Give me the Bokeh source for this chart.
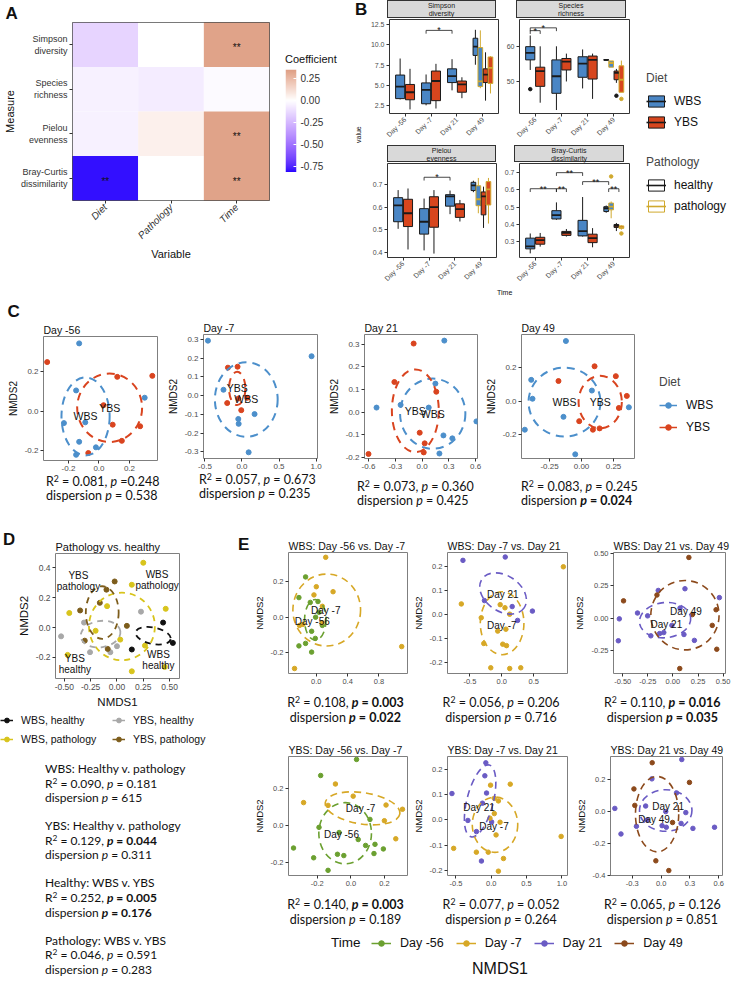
import numpy as np
from bokeh.plotting import figure
from bokeh.layouts import row, column
from bokeh.models import (Range1d, FactorRange, ColumnDataSource, LinearColorMapper,
                          FixedTicker, PrintfTickFormatter, Title, Div, Spacer, Legend, LegendItem)
from bokeh.transform import transform
from bokeh.core.properties import value
from bokeh.embed import file_html
from bokeh.resources import INLINE

# ============================ DATA ============================
# ---- Panel A: coefficient heatmap ----
heat_measures = ["Simpson\ndiversity", "Species\nrichness", "Pielou\nevenness", "Bray-Curtis\ndissimilarity"]
heat_variables = ["Diet", "Pathology", "Time"]
heat_coef_simpson = [-0.15, 0.00, 0.33]
heat_coef_richness = [-0.05, -0.07, -0.02]
heat_coef_pielou = [-0.05, 0.05, 0.33]
heat_coef_bray = [-0.80, 0.00, 0.33]
heat_sig_simpson = ["", "", "**"]
heat_sig_richness = ["", "", ""]
heat_sig_pielou = ["", "", "**"]
heat_sig_bray = ["**", "", "**"]
coef_ticks = [0.25, 0.0, -0.25, -0.5, -0.75]
coef_low, coef_high = -0.82, 0.35

# ---- Panel B: boxplots ----
days = ["Day -56", "Day -7", "Day 21", "Day 49"]
box_day = ["Day -56", "Day -56", "Day -7", "Day -7", "Day 21", "Day 21", "Day 49", "Day 49", "Day 49", "Day 49"]
box_diet = ["WBS", "YBS", "WBS", "YBS", "WBS", "YBS", "WBS", "WBS", "YBS", "YBS"]
box_path = ["healthy"] * 6 + ["healthy", "pathology", "healthy", "pathology"]

simpson_lo = [3.30, 2.08, 2.58, 2.19, 4.41, 3.45, 7.54, 4.67, 3.15, 4.03]
simpson_q1 = [3.40, 3.26, 2.77, 3.15, 5.36, 4.18, 8.68, 4.87, 5.36, 5.25]
simpson_med = [4.87, 4.18, 4.48, 5.55, 6.16, 5.13, 9.75, 5.51, 6.32, 7.16]
simpson_q3 = [6.28, 5.13, 5.32, 6.77, 7.04, 5.55, 10.78, 9.64, 7.04, 8.49]
simpson_hi = [8.30, 7.04, 6.35, 7.65, 8.22, 6.01, 11.81, 11.74, 9.06, 8.60]

species_lo = [53.3, 43.9, 41.8, 50.0, 48.0, 45.0, 56.0, 54.1, 49.6, 46.9]
species_q1 = [56.2, 48.6, 46.6, 53.3, 51.2, 50.7, 56.1, 54.1, 50.5, 46.9]
species_med = [58.2, 53.0, 51.5, 55.7, 55.1, 56.2, 56.2, 55.3, 52.5, 50.5]
species_q3 = [60.0, 54.1, 56.2, 56.6, 57.1, 57.3, 56.3, 55.9, 53.0, 54.5]
species_hi = [63.2, 60.1, 60.1, 58.0, 59.2, 58.0, 56.4, 55.9, 53.6, 56.0]

pielou_lo = [0.505, 0.415, 0.411, 0.397, 0.569, 0.537, 0.665, 0.573, 0.509, 0.528]
pielou_q1 = [0.536, 0.515, 0.482, 0.512, 0.604, 0.555, 0.672, 0.606, 0.566, 0.609]
pielou_med = [0.607, 0.573, 0.536, 0.600, 0.647, 0.591, 0.695, 0.634, 0.647, 0.677]
pielou_q3 = [0.641, 0.634, 0.593, 0.645, 0.654, 0.614, 0.708, 0.693, 0.666, 0.711]
pielou_hi = [0.674, 0.681, 0.637, 0.674, 0.672, 0.631, 0.715, 0.727, 0.689, 0.727]

bray_lo = [0.233, 0.272, 0.427, 0.330, 0.330, 0.268, 0.468, 0.436, 0.362, 0.370]
bray_q1 = [0.259, 0.286, 0.432, 0.337, 0.334, 0.295, 0.475, 0.485, 0.383, 0.378]
bray_med = [0.273, 0.309, 0.454, 0.351, 0.362, 0.321, 0.494, 0.503, 0.392, 0.383]
bray_q3 = [0.321, 0.326, 0.480, 0.360, 0.424, 0.344, 0.503, 0.524, 0.400, 0.392]
bray_hi = [0.348, 0.351, 0.528, 0.374, 0.559, 0.379, 0.510, 0.533, 0.409, 0.396]

out_measure = ["species", "species", "species", "bray", "bray"]
out_box = [0, 8, 9, 7, 9]
out_value = [47.8, 45.9, 45.0, 0.678, 0.348]

br_measure = ["simpson", "species", "species", "pielou", "bray", "bray", "bray", "bray", "bray"]
br_from = [("Day -7", "WBS"), ("Day -56", "WBS"), ("Day -56", "WBS"), ("Day -7", "WBS"), ("Day -56", "WBS"),
           ("Day -7", "WBS"), ("Day -7", "WBS"), ("Day 21", "WBS"), ("Day 49", "WBS")]
br_to = [("Day 21", "WBS"), ("Day -56", "YBS"), ("Day -7", "WBS"), ("Day 21", "WBS"), ("Day -7", "WBS"),
         ("Day -7", "YBS"), ("Day 21", "WBS"), ("Day 49", "WBS"), ("Day 49", "YBS")]
br_y = [11.74, 64.6, 65.4, 0.73, 0.607, 0.607, 0.700, 0.648, 0.607]
br_label = ["*", "*", "*", "*", "**", "**", "**", "**", "**"]

simpson_ticks = [2.5, 5.0, 7.5, 10.0, 12.5]
species_ticks = [50, 60]
pielou_ticks = [0.4, 0.5, 0.6, 0.7]
bray_ticks = [0.3, 0.4, 0.5, 0.6, 0.7]

# ---- Panel C: NMDS per day ----
c1_wbs_x = [-0.13, -0.15, 0.30, -0.23, -0.09, -0.13, -0.15, -0.02]
c1_wbs_y = [0.345, 0.106, 0.069, -0.060, -0.056, -0.155, -0.221, -0.183]
c1_ybs_x = [-0.34, 0.35, 0.12, 0.03, 0.09, 0.27, 0.15, -0.07]
c1_ybs_y = [0.250, 0.180, 0.175, 0.031, -0.068, -0.076, -0.150, -0.212]
c1_wbs_ell = [-0.088, -0.026, 0.316, 0.396, 0.0]
c1_ybs_ell = [0.070, 0.018, 0.426, 0.348, 0.0]

c2_wbs_x = [-0.46, 0.94, -0.25, -0.05, -0.045, 0.17, 0.09]
c2_wbs_y = [0.293, 0.210, 0.031, -0.125, -0.151, -0.099, -0.303]
c2_ybs_x = [-0.19, -0.06, -0.20, -0.01, -0.05, 0.07]
c2_ybs_y = [0.149, 0.154, -0.040, -0.078, -0.016, -0.012]
c2_wbs_ell = [0.058, -0.021, 0.848, 0.398, 0.0]
c2_ybs_ell = [-0.065, 0.038, 0.220, 0.177, 0.0]

c3_wbs_x = [0.25, -0.51, -0.24, 0.075, 0.15, 0.61, 0.24, 0.34, 0.195]
c3_wbs_y = [0.316, 0.020, 0.032, 0.020, 0.126, -0.041, -0.103, -0.116, -0.183]
c3_ybs_x = [-0.094, -0.31, 0.16, -0.026, 0.03, 0.019, -0.60]
c3_ybs_y = [0.303, 0.133, 0.090, -0.091, -0.138, -0.178, -0.185]
c3_wbs_ell = [0.120, -0.007, 0.732, 0.310, 0.0]
c3_ybs_ell = [-0.075, 0.006, 0.526, 0.366, 0.0]

c4_wbs_x = [-0.122, -0.393, -0.383, -0.443, -0.141, 0.081, 0.37, -0.049]
c4_wbs_y = [0.361, 0.129, 0.016, -0.169, -0.092, 0.065, -0.035, -0.316]
c4_ybs_x = [-0.18, 0.102, 0.268, 0.354, 0.292, -0.018, 0.089, 0.141]
c4_ybs_y = [0.122, 0.210, 0.151, 0.033, -0.039, -0.118, -0.169, -0.161]
c4_wbs_ell = [-0.133, -0.004, 0.562, 0.412, 0.0]
c4_ybs_ell = [0.146, -0.004, 0.338, 0.314, 0.0]

c_titles = ["Day -56", "Day -7", "Day 21", "Day 49"]
c_xr = [(-0.364, 0.384), (-0.52, 1.02), (-0.645, 0.622), (-0.469, 0.414)]
c_yr = [(-0.25, 0.38), (-0.336, 0.326), (-0.205, 0.343), (-0.341, 0.40)]
c_xticks = [[-0.2, 0.0, 0.2], [-0.5, 0.0, 0.5, 1.0], [-0.6, -0.3, 0.0, 0.3, 0.6], [-0.25, 0.0, 0.25]]
c_yticks = [[-0.2, 0.0, 0.2], [-0.3, -0.2, -0.1, 0.0, 0.1, 0.2, 0.3], [-0.2, -0.1, 0.0, 0.1, 0.2, 0.3], [-0.2, 0.0, 0.2]]
c_r2 = ["0.081", "0.057", "0.073", "0.083"]
c_p = ["0.248", "0.673", "0.360", "0.245"]
c_p_sep = [" =", " = ", " = ", " = "]
c_disp = ["0.538", "0.235", "0.425", "0.024"]
c_disp_bold = [False, False, False, True]

# ---- Panel D: pathology vs healthy ----
d_wh_x = [0.438, 0.531, 0.141]
d_wh_y = [0.033, -0.103, -0.147]
d_wp_x = [0.25, 0.141, 0.463, -0.094, -0.453, -0.203, 0.031, 0.266, -0.469, 0.141, 0.453]
d_wp_y = [0.433, 0.286, 0.125, 0.143, 0.097, -0.022, -0.081, -0.121, -0.183, -0.293, -0.264]
d_yh_x = [0.228, -0.531, -0.313, -0.256, -0.063, 0.0]
d_yh_y = [0.106, -0.059, 0.033, -0.165, -0.165, -0.125]
d_yp_x = [-0.022, -0.10, -0.163, -0.35, 0.094, -0.306, -0.088]
d_yp_y = [0.308, 0.253, 0.165, 0.114, 0.011, -0.088, -0.143]
d_wh_ell = [0.344, -0.055, 0.34, 0.11, -0.2]
d_wp_ell = [0.047, 0.007, 0.626, 0.452, 0.0]
d_yh_ell = [-0.156, -0.044, 0.38, 0.176, 0.15]
d_yp_ell = [-0.14, 0.10, 0.312, 0.352, 0.0]
d_label_text = ["YBS\npathology", "WBS\npathology", "YBS\nhealthy", "WBS\nhealthy"]
d_label_x = [-0.366, 0.381, -0.40, 0.394]
d_label_y = [0.308, 0.319, -0.242, -0.22]
d_xr, d_yr = (-0.584, 0.594), (-0.341, 0.495)
d_xticks = [-0.5, -0.25, 0.0, 0.25, 0.5]
d_yticks = [-0.2, 0.0, 0.2, 0.4]
d_titles = ["WBS: Healthy v. pathology", "YBS: Healthy v. pathology", "Healthy: WBS v. YBS", "Pathology: WBS v. YBS"]
d_r2 = ["0.090", "0.129", "0.252", "0.046"]
d_p = ["0.181", "0.044", "0.005", "0.591"]
d_p_bold = [False, True, True, False]
d_disp = ["615", "0.311", "0.176", "0.283"]
d_disp_bold = [False, False, True, False]

# ---- Panel E: time comparisons ----
e1_a_x = [-0.137, -0.222, -0.077, 0.021, -0.009, 0.077, -0.06, -0.013, -0.137, -0.222, -0.06, 0.034]
e1_a_y = [0.226, 0.11, 0.083, 0.088, 0.0, -0.046, -0.079, -0.119, -0.147, -0.161, -0.196, 0.028]
e1_b_x = [0.12, 0.0, 0.214, -0.03, 0.077, 1.09, -0.278, -0.214, -0.171, 0.073]
e1_b_y = [0.336, 0.171, 0.143, 0.125, 0.061, -0.165, -0.288, -0.046, -0.04, -0.031]
e1_a_ell = [-0.013, -0.015, 0.274, 0.228, 0.0]
e1_b_ell = [0.133, 0.04, 0.864, 0.404, 0.0]

e2_a_x = [-0.609, 0.054, -0.272, 0.163, 0.248, 0.48]
e2_a_y = [0.227, 0.241, 0.058, 0.033, -0.025, 0.014]
e2_b_x = [0.965, -0.634, -0.322, -0.025, 0.05, 0.124, -0.064, 0.064, -0.282, 0.015, 0.074, -0.173, 0.124, 0.297]
e2_b_y = [0.2, 0.044, -0.014, 0.041, 0.028, 0.001, -0.07, -0.062, -0.122, -0.125, -0.131, -0.224, -0.227, -0.224]
e2_a_ell = [0.02, 0.088, 0.8, 0.15, -0.6]
e2_b_ell = [0.005, -0.037, 0.684, 0.264, 0.0]

e3_a_x = [-0.534, -0.544, -0.146, 0.12, 0.463, -0.353, -0.252, 0.071, -0.133, -0.091, -0.22, 0.11, 0.214, -0.01]
e3_a_y = [-0.005, -0.173, 0.213, 0.226, 0.158, 0.04, 0.018, 0.078, -0.118, -0.11, -0.135, -0.125, -0.17, -0.055]
e3_b_x = [0.159, -0.492, -0.159, 0.43, 0.392, 0.437, 0.068, 0.194]
e3_b_y = [0.466, 0.133, 0.178, 0.065, -0.055, -0.238, -0.386, 0.028]
e3_a_ell = [-0.078, -0.015, 0.512, 0.27, 0.1]
e3_b_ell = [0.12, 0.023, 0.68, 0.532, 0.0]

e4_a_x = [0.034, -0.18, -0.342, -0.19, -0.07, 0.044, 0.114, 0.088, 0.144, 0.194, -0.222, -0.08, -0.042, 0.138, -0.136]
e4_a_y = [0.359, 0.272, -0.121, -0.009, -0.037, -0.075, 0.034, -0.107, -0.101, -0.126, -0.174, -0.155, -0.162, -0.151, -0.242]
e4_b_x = [-0.282, -0.092, -0.136, 0.014, 0.21, 0.308, 0.2, 0.268]
e4_b_y = [0.125, 0.226, 0.11, 0.16, 0.112, 0.089, 0.027, -0.071]
e4_a_ell = [-0.034, -0.041, 0.314, 0.332, 0.0]
e4_b_ell = [0.07, 0.094, 0.45, 0.17, -0.15]

e5_a_x = [-0.077, -0.091, -0.557, -0.067, -0.331, 0.005, -0.139, -0.125, -0.21]
e5_a_y = [0.225, 0.174, 0.104, 0.106, -0.002, -0.008, -0.162, 0.066, -0.046]
e5_b_x = [-0.01, 0.269, 0.043, 0.101, 0.043, -0.019, 0.125, 0.068, -0.533, -0.211, -0.043, 0.173, 0.99, 0.101]
e5_b_y = [0.137, 0.141, 0.085, 0.075, 0.025, 0.007, -0.009, -0.059, -0.112, -0.127, -0.127, -0.152, -0.065, -0.202]
e5_a_ell = [-0.158, 0.075, 0.374, 0.292, -0.25]
e5_b_ell = [0.053, -0.019, 0.644, 0.218, 0.0]

e6_a_x = [0.215, -0.482, -0.418, -0.096, -0.161, -0.257, 0.048, 0.16, 0.257, 0.208, 0.331, 0.556, 0.01, 0.054, -0.145]
e6_a_y = [0.326, 0.02, -0.14, 0.205, 0.035, -0.092, 0.0, 0.117, -0.006, -0.074, -0.105, -0.098, -0.088, -0.098, -0.053]
e6_b_x = [-0.093, 0.295, -0.283, -0.274, 0.119, -0.055, 0.08]
e6_b_y = [0.306, 0.183, 0.142, 0.039, -0.068, -0.308, -0.369]
e6_a_ell = [0.048, 0.007, 0.546, 0.26, 0.0]
e6_b_ell = [-0.042, -0.016, 0.45, 0.472, 0.0]

e_titles = ["WBS: Day -56 vs. Day -7", "WBS: Day -7 vs. Day 21", "WBS: Day 21 vs. Day 49",
            "YBS: Day -56 vs. Day -7", "YBS: Day -7 vs. Day 21", "YBS: Day 21 vs. Day 49"]
e_groups = [("Day -56", "Day -7"), ("Day 21", "Day -7"), ("Day 21", "Day 49"),
            ("Day -56", "Day -7"), ("Day 21", "Day -7"), ("Day 21", "Day 49")]
e_label_a = [(-0.051, -0.026), (0.015, 0.085), (-0.065, -0.05), (-0.056, -0.05), (-0.173, 0.05), (0.073, 0.035)]
e_label_b = [(0.12, 0.04), (0.0, -0.048), (0.13, 0.048), (0.058, 0.093), (0.039, -0.027), (-0.074, -0.049)]
e_xr = [(-0.355, 1.164), (-0.851, 1.03), (-0.592, 0.524), (-0.372, 0.338), (-0.62, 1.08), (-0.527, 0.639)]
e_yr = [(-0.316, 0.363), (-0.248, 0.26), (-0.424, 0.504), (-0.27, 0.375), (-0.219, 0.25), (-0.4, 0.345)]
e_xticks = [[0.0, 0.4, 0.8], [-0.5, 0.0, 0.5], [-0.5, -0.25, 0.0, 0.25, 0.5], [-0.2, 0.0, 0.2], [-0.5, 0.0, 0.5, 1.0], [-0.3, 0.0, 0.3, 0.6]]
e_yticks = [[-0.2, 0.0, 0.2], [-0.2, -0.1, 0.0, 0.1, 0.2], [-0.25, 0.0, 0.25, 0.5], [-0.2, 0.0, 0.2], [-0.2, -0.1, 0.0, 0.1, 0.2], [-0.4, -0.2, 0.0, 0.2]]
e_xfmt = ["%.1f", "%.1f", "%.2f", "%.1f", "%.1f", "%.1f"]
e_yfmt = ["%.1f", "%.1f", "%.2f", "%.1f", "%.1f", "%.1f"]
e_r2 = ["0.108", "0.056", "0.110", "0.140", "0.077", "0.065"]
e_p = ["0.003", "0.206", "0.016", "0.003", "0.052", "0.126"]
e_p_bold = [True, False, True, True, False, False]
e_disp = ["0.022", "0.716", "0.035", "0.189", "0.264", "0.851"]
e_disp_bold = [True, False, True, False, False, False]
time_levels = ["Day -56", "Day -7", "Day 21", "Day 49"]

# ============================ STYLE ============================
AXF = "Liberation Sans"
STF = "Lato"
WBS_FILL, YBS_FILL = "#4A86C5", "#D7461E"
WBS_PT, YBS_PT = "#4C8FCB", "#D9441F"
HEALTHY_LINE, PATH_LINE = "#1A1A1A", "#D0A92E"
D_COLORS = {"wh": "#111111", "wp": "#D8C41C", "yh": "#A8A8A8", "yp": "#7D5D1C"}
TIME_COLORS = {"Day -56": "#6BA030", "Day -7": "#D7A826", "Day 21": "#6A5BC4", "Day 49": "#8C4A1C"}
HEAT_LOW, HEAT_HIGH = "#2200FF", "#DE9E83"
NAN = [float("nan")]


def hex2rgb(h):
    h = h.lstrip("#")
    return np.array([int(h[i:i + 2], 16) for i in (0, 2, 4)], float)


_M = np.array([[0.4124564, 0.3575761, 0.1804375], [0.2126729, 0.7151522, 0.0721750], [0.0193339, 0.1191920, 0.9503041]])
_MI = np.linalg.inv(_M)
_WP = np.array([0.95047, 1.0, 1.08883])
_E, _K = 216 / 24389, 24389 / 27


def rgb2lab(c):
    c = c / 255.0
    lin = np.where(c <= 0.04045, c / 12.92, ((c + 0.055) / 1.055) ** 2.4)
    xyz = (_M @ lin) / _WP
    f = np.where(xyz > _E, np.cbrt(xyz), (_K * xyz + 16) / 116)
    return np.array([116 * f[1] - 16, 500 * (f[0] - f[1]), 200 * (f[1] - f[2])])


def lab2hex(lab):
    L, a, b = lab
    fy = (L + 16) / 116
    f = np.array([fy + a / 500, fy, fy - b / 200])
    xyz = np.where(f ** 3 > _E, f ** 3, (116 * f - 16) / _K) * _WP
    lin = np.clip(_MI @ xyz, 0, 1)
    c = np.where(lin <= 0.0031308, 12.92 * lin, 1.055 * lin ** (1 / 2.4) - 0.055)
    c = np.clip(np.round(c * 255), 0, 255).astype(int)
    return "#%02x%02x%02x" % tuple(c)


_lab_lo, _lab_mid, _lab_hi = rgb2lab(hex2rgb(HEAT_LOW)), rgb2lab(hex2rgb("#FFFFFF")), rgb2lab(hex2rgb(HEAT_HIGH))
heat_palette = []
for v in np.linspace(coef_low, coef_high, 256):
    if v < 0:
        heat_palette.append(lab2hex(_lab_mid + (v / coef_low) * (_lab_lo - _lab_mid)))
    else:
        heat_palette.append(lab2hex(_lab_mid + (v / coef_high) * (_lab_hi - _lab_mid)))


def style_axes(p, tick_px, label_px, tick_color="#4D4D4D"):
    for ax in list(p.xaxis) + list(p.yaxis):
        ax.major_label_text_font = AXF
        ax.major_label_text_font_size = f"{tick_px}px"
        ax.major_label_text_color = tick_color
        ax.axis_label_text_font = AXF
        ax.axis_label_text_font_size = f"{label_px}px"
        ax.axis_label_text_font_style = "normal"
        ax.axis_label_text_color = "#111111"
        ax.axis_line_color = None
        ax.minor_tick_line_color = None
        ax.major_tick_in = 0
        ax.major_tick_out = 3
        ax.major_tick_line_color = "#333333"
        ax.major_label_standoff = 2
        ax.axis_label_standoff = 3


def new_fig(fw, fh, xr, yr, left, right, top, bottom, outline="#7F7F7F", **kw):
    p = figure(frame_width=fw, frame_height=fh, x_range=xr, y_range=yr, output_backend="svg",
               toolbar_location=None, title=None, min_border_left=left, min_border_right=right,
               min_border_top=top, min_border_bottom=bottom, **kw)
    p.grid.visible = False
    p.outline_line_color = outline
    p.outline_line_width = 1
    return p


def add_title(p, text, px, bold=False, offset=0, standoff=2):
    p.add_layout(Title(text=text, align="left", offset=offset, standoff=standoff, text_font=AXF,
                       text_font_size=f"{px}px", text_font_style="bold" if bold else "normal",
                       text_color="#111111"), "above")


def div(html, w, h, **st):
    styles = {"font-family": AXF, "color": "#111111", "box-sizing": "border-box", "overflow": "visible"}
    styles.update({k.replace("_", "-"): v for k, v in st.items()})
    return Div(text=html, width=w, height=h, margin=0, styles=styles)


def sp(w, h):
    return Spacer(width=w, height=h, margin=0)


def legend_fig(w, h):
    p = figure(width=w, height=h, x_axis_type=None, y_axis_type=None, output_backend="svg",
               toolbar_location=None, title=None, min_border=0, x_range=Range1d(0, 1), y_range=Range1d(0, 1))
    p.outline_line_color = None
    return p


def add_legend(p, items, title=None, px=12, title_px=12, gw=20, gh=14, lh=21, standoff=8, spacing=0,
               orientation="vertical"):
    leg = Legend(items=items, location="top_left", orientation=orientation, label_text_font=AXF,
                 label_text_font_size=f"{px}px", label_text_color="#111111", glyph_width=gw, glyph_height=gh,
                 label_height=lh, label_standoff=standoff, spacing=spacing, padding=0, margin=0,
                 border_line_color=None, background_fill_alpha=0)
    if title:
        leg.title = title
        leg.title_text_font = AXF
        leg.title_text_font_size = f"{title_px}px"
        leg.title_text_font_style = "normal"
        leg.title_standoff = 5
    p.add_layout(leg)


def point_key(p, color, lw=1.5, size=6):
    return [p.line(x=NAN, y=NAN, line_color=color, line_width=lw),
            p.scatter(x=NAN, y=NAN, size=size, fill_color=color, line_color=color)]


def box_key(p, fill, line):
    return [p.rect(x=NAN, y=NAN, width=1, height=1, fill_color=fill, line_color=line),
            p.segment(x0=NAN, y0=NAN, x1=NAN, y1=NAN, line_color=line, line_width=1.6)]


SUP = '<span style="font-size:70%;vertical-align:0.5em;line-height:0">2</span>'


def stat_html(r2, pv, pbold, disp, dbold, psep=" = "):
    pp = f"<i>p</i>{psep}{pv}"
    if pbold:
        pp = f"<b>{pp}</b>"
    dd = f"<i>p</i> = {disp}"
    if dbold:
        dd = f"<b>{dd}</b>"
    return f"R{SUP} = {r2}, {pp}<br>dispersion {dd}"


def nmds(fw, fh, left, right, top, bottom, xr, yr, xt, yt, xf, yf, title, groups, labels, tick_px=8,
         ylab_px=10, title_px=10.5, pt=5, lab_px=10.5, dash="8 6", lw=2.0, xlab=None):
    p = new_fig(fw, fh, Range1d(*xr), Range1d(*yr), left, right, top, bottom)
    add_title(p, title, title_px)
    p.xaxis.ticker = FixedTicker(ticks=xt)
    p.xaxis.formatter = PrintfTickFormatter(format=xf)
    p.yaxis.ticker = FixedTicker(ticks=yt)
    p.yaxis.formatter = PrintfTickFormatter(format=yf)
    p.yaxis.axis_label = "NMDS2"
    if xlab:
        p.xaxis.axis_label = xlab
    style_axes(p, tick_px, ylab_px)
    for xs, ys, color, ell in groups:
        p.scatter(x=xs, y=ys, size=pt, fill_color=color, line_color=color)
    for xs, ys, color, ell in groups:
        p.ellipse(x=[ell[0]], y=[ell[1]], width=[ell[2]], height=[ell[3]], angle=[ell[4]], fill_color=None,
                  line_color=color, line_width=lw, line_dash=dash)
    for txt, lx, ly in labels:
        p.text(x=[lx], y=[ly], text=[txt], text_align="center", text_baseline="middle", text_font=value(AXF),
               text_font_size=f"{lab_px}px", text_color="#111111", text_line_height=1.0)
    return p


# ============================ PANEL A ============================
heat_rows = [heat_coef_simpson, heat_coef_richness, heat_coef_pielou, heat_coef_bray]
sig_rows = [heat_sig_simpson, heat_sig_richness, heat_sig_pielou, heat_sig_bray]
src_a = ColumnDataSource(dict(
    measure=[m for m in heat_measures for _ in heat_variables],
    variable=[v for _ in heat_measures for v in heat_variables],
    coef=[c for r in heat_rows for c in r],
    sig=[s for r in sig_rows for s in r]))
mapper = LinearColorMapper(palette=heat_palette, low=coef_low, high=coef_high)
fig_a = new_fig(197, 178, FactorRange(factors=heat_variables), FactorRange(factors=heat_measures[::-1]),
                71, 6, 22, 95, outline="#4D4D4D")
add_title(fig_a, "A", 17, bold=True, offset=-67, standoff=0)
fig_a.rect(x="variable", y="measure", width=1, height=1, source=src_a, fill_color=transform("coef", mapper),
           line_color=None)
fig_a.text(x="variable", y="measure", text="sig", source=src_a, text_align="center", text_baseline="middle",
           y_offset=3, text_font_size="10px", text_font=value(AXF), text_color="#111111")
fig_a.xaxis.axis_label = "Variable"
fig_a.yaxis.axis_label = "Measure"
style_axes(fig_a, 9, 11, tick_color="#333333")
fig_a.yaxis.axis_label_standoff = 2
fig_a.xaxis.major_label_orientation = 0.7854
fig_a.xaxis.major_label_text_font_size = "10px"
fig_a.xaxis.major_label_text_font_style = "italic"
fig_a.xaxis.axis_label_standoff = 0

# colour bar drawn as its own small figure with the same colour mapper
fig_cb = new_fig(11, 103, Range1d(0, 1), Range1d(coef_low, coef_high), 10, 55, 0, 0, outline=None,
                 x_axis_type=None, y_axis_location="right")
fig_cb.image(image=[np.linspace(coef_low, coef_high, 256).reshape(-1, 1)], x=0, y=coef_low, dw=1,
             dh=coef_high - coef_low, color_mapper=mapper)
fig_cb.yaxis.ticker = FixedTicker(ticks=coef_ticks)
fig_cb.yaxis.formatter = PrintfTickFormatter(format="%.2f")
style_axes(fig_cb, 10, 10, tick_color="#333333")
fig_cb.yaxis.major_tick_out = 0
fig_cb.yaxis.major_tick_in = 3
fig_cb.yaxis.major_tick_line_color = "white"
fig_cb.yaxis.major_label_standoff = 4
cb_col = column(sp(76, 52), div("Coefficient", 76, 14, font_size="11px", line_height="14px", padding_left="10px"),
                sp(76, 3), fig_cb, sp(76, 123))

# ============================ PANEL B ============================
def box_offset(day, diet, path):
    if day == "Day 49":
        return {("WBS", "healthy"): -0.29, ("WBS", "pathology"): -0.10,
                ("YBS", "healthy"): 0.10, ("YBS", "pathology"): 0.29}[(diet, path)]
    return -0.19 if diet == "WBS" else 0.19


def diet_center(day, diet):
    off = 0.195 if day == "Day 49" else 0.19
    return days.index(day) + 0.5 + (-off if diet == "WBS" else off)


box_x = [days.index(d) + 0.5 + box_offset(d, di, pa) for d, di, pa in zip(box_day, box_diet, box_path)]
box_w = [0.18 if d == "Day 49" else 0.35 for d in box_day]
box_fill = [WBS_FILL if d == "WBS" else YBS_FILL for d in box_diet]
box_line = [HEALTHY_LINE if q == "healthy" else PATH_LINE for q in box_path]


def box_panel(name, lo, q1, med, q3, hi, yr, yt, yf, fw, left, right):
    p = new_fig(fw, 94, FactorRange(factors=days, range_padding=0.1, range_padding_units="absolute"),
                Range1d(*yr), left, right, 1, 28, outline="#333333")
    src = ColumnDataSource(dict(x=box_x, w=box_w, xl=[a - b / 2 for a, b in zip(box_x, box_w)],
                                xr=[a + b / 2 for a, b in zip(box_x, box_w)], lo=lo, q1=q1, med=med, q3=q3,
                                hi=hi, fill=box_fill, line=box_line))
    p.segment(x0="x", y0="lo", x1="x", y1="q1", line_color="line", line_width=1, source=src)
    p.segment(x0="x", y0="q3", x1="x", y1="hi", line_color="line", line_width=1, source=src)
    p.vbar(x="x", width="w", bottom="q1", top="q3", fill_color="fill", line_color="line", line_width=1, source=src)
    p.segment(x0="xl", y0="med", x1="xr", y1="med", line_color="line", line_width=1.8, source=src)
    idx = [i for m, i in zip(out_measure, out_box) if m == name]
    if idx:
        p.scatter(x=[box_x[i] for i in idx], y=[v for m, v in zip(out_measure, out_value) if m == name],
                  size=3.5, fill_color=[box_line[i] for i in idx], line_color=[box_line[i] for i in idx])
    leg = 0.035 * (yr[1] - yr[0])
    bx, by, tx, ty, tt = [], [], [], [], []
    for m, f, t, y, lab in zip(br_measure, br_from, br_to, br_y, br_label):
        if m != name:
            continue
        x1, x2 = diet_center(*f), diet_center(*t)
        bx.append([x1, x1, x2, x2])
        by.append([y - leg, y, y, y - leg])
        tx.append((x1 + x2) / 2)
        ty.append(y)
        tt.append(lab)
    if bx:
        p.multi_line(xs=bx, ys=by, line_color="#1A1A1A", line_width=0.8)
        p.text(x=tx, y=ty, text=tt, text_align="center", text_baseline="alphabetic", text_font=value(AXF),
               text_font_size="9px", text_color="#111111")
    p.yaxis.ticker = FixedTicker(ticks=yt)
    p.yaxis.formatter = PrintfTickFormatter(format=yf)
    style_axes(p, 7, 7)
    p.xaxis.major_label_orientation = 0.7854
    return p


b11 = box_panel("simpson", simpson_lo, simpson_q1, simpson_med, simpson_q3, simpson_hi, (1.58, 13.07),
                simpson_ticks, "%.1f", 109, 20, 5)
b12 = box_panel("species", species_lo, species_q1, species_med, species_q3, species_hi, (40.8, 67.8),
                species_ticks, "%d", 110, 13, 5)
b21 = box_panel("pielou", pielou_lo, pielou_q1, pielou_med, pielou_q3, pielou_hi, (0.38, 0.79),
                pielou_ticks, "%.1f", 109, 20, 5)
b22 = box_panel("bray", bray_lo, bray_q1, bray_med, bray_q3, bray_hi, (0.209, 0.753),
                bray_ticks, "%.1f", 110, 13, 5)


def strip(text, w, h):
    return div(text, w, h, background_color="#D9D9D9", border="1px solid #333333",
               font_size="7px", line_height="7.5px", text_align="center", padding_top="1px", color="#1A1A1A")


b_grid = column(
    row(column(row(sp(20, 18), strip("Simpson<br>diversity", 109, 18), sp(5, 18)), b11),
        column(row(sp(13, 18), strip("Species<br>richness", 110, 18), sp(5, 18)), b12)),
    sp(262, 2),
    row(column(row(sp(20, 17), strip("Pielou<br>evenness", 109, 17), sp(5, 17)), b21),
        column(row(sp(13, 17), strip("Bray-Curtis<br>dissimilarity", 110, 17), sp(5, 17)), b22)),
    div("Time", 262, 12, font_size="7px", line_height="12px", padding_left="130px"))

value_div = Div(text="value", width=16, height=44, margin=0,
                styles={"writing-mode": "vertical-rl", "transform": "rotate(180deg)", "font-size": "7px",
                        "font-family": AXF, "text-align": "center", "line-height": "16px", "color": "#111111",
                        "overflow": "visible"})
b_letter = column(div("<b>B</b>", 16, 20, font_size="17px", line_height="20px", padding_left="4px"),
                  sp(16, 93), value_div, sp(16, 138))

lb1 = legend_fig(80, 62)
add_legend(lb1, [LegendItem(label="WBS", renderers=box_key(lb1, WBS_FILL, HEALTHY_LINE)),
                 LegendItem(label="YBS", renderers=box_key(lb1, YBS_FILL, HEALTHY_LINE))], title="Diet")
lb2 = legend_fig(82, 62)
add_legend(lb2, [LegendItem(label="healthy", renderers=box_key(lb2, "white", HEALTHY_LINE)),
                 LegendItem(label="pathology", renderers=box_key(lb2, "white", PATH_LINE))], title="Pathology")
b_legend = column(sp(92, 71), row(sp(12, 62), lb1), sp(92, 22), row(sp(12, 62), lb2), sp(92, 78))

block1 = row(fig_a, cb_col, b_letter, b_grid, b_legend)

# ============================ PANEL C ============================
c_data = [(c1_wbs_x, c1_wbs_y, c1_ybs_x, c1_ybs_y, c1_wbs_ell, c1_ybs_ell),
          (c2_wbs_x, c2_wbs_y, c2_ybs_x, c2_ybs_y, c2_wbs_ell, c2_ybs_ell),
          (c3_wbs_x, c3_wbs_y, c3_ybs_x, c3_ybs_y, c3_wbs_ell, c3_ybs_ell),
          (c4_wbs_x, c4_wbs_y, c4_ybs_x, c4_ybs_y, c4_wbs_ell, c4_ybs_ell)]
c_geom = [(114, 43, 7), (114, 36, 8), (113, 36, 5), (113, 39, 4)]
c_text_pad = [(46, 0), (35, 0), (32, 7), (39, 7)]
c_cols = []
for i in range(4):
    wx, wy, yx, yy, we, ye = c_data[i]
    fw, left, right = c_geom[i]
    p = nmds(fw, 124, left, right, 35, 15, c_xr[i], c_yr[i], c_xticks[i], c_yticks[i],
             "%.2f" if i == 3 else "%.1f", "%.1f", c_titles[i],
             [(wx, wy, WBS_PT, we), (yx, yy, YBS_PT, ye)],
             [("WBS", we[0], we[1]), ("YBS", ye[0], ye[1])])
    if i == 0:
        add_title(p, "C", 17, bold=True, offset=-36, standoff=0)
    html = stat_html(c_r2[i], c_p[i], False, c_disp[i], c_disp_bold[i], psep=c_p_sep[i])
    d = div(html, fw + left + right, 53, font_family=STF, font_size="12.5px", line_height="14px",
            text_align="left", padding_left=f"{c_text_pad[i][0]}px", padding_top=f"{c_text_pad[i][1]}px",
            white_space="nowrap")
    c_cols.append(column(p, d))

lc = legend_fig(67, 60)
add_legend(lc, [LegendItem(label="WBS", renderers=point_key(lc, WBS_PT)),
                LegendItem(label="YBS", renderers=point_key(lc, YBS_PT))], title="Diet", gw=18, gh=14,
           lh=22, standoff=9)
c_legend = column(sp(88, 76), row(sp(21, 60), lc), sp(88, 91))
block2 = row(*c_cols, c_legend)

# ============================ PANEL D ============================
fig_d = nmds(124, 125, 34, 55, 25, 32, d_xr, d_yr, d_xticks, d_yticks, "%.2f", "%.1f", "Pathology vs. healthy",
             [(d_wh_x, d_wh_y, D_COLORS["wh"], d_wh_ell), (d_wp_x, d_wp_y, D_COLORS["wp"], d_wp_ell),
              (d_yh_x, d_yh_y, D_COLORS["yh"], d_yh_ell), (d_yp_x, d_yp_y, D_COLORS["yp"], d_yp_ell)],
             list(zip(d_label_text, d_label_x, d_label_y)), tick_px=8.5, ylab_px=11.5, title_px=11, pt=5,
             lab_px=10, dash="6 5", lw=1.8, xlab="NMDS1")
d_letter = div("<b>D</b>", 14, 182, font_size="17px", line_height="20px", padding_left="3px", padding_top="2px")
ld1 = legend_fig(112, 40)
add_legend(ld1, [LegendItem(label="WBS, healthy", renderers=point_key(ld1, D_COLORS["wh"], size=5)),
                 LegendItem(label="WBS, pathology", renderers=point_key(ld1, D_COLORS["wp"], size=5))],
           px=10.5, gw=13, gh=12, lh=19, standoff=8)
ld2 = legend_fig(115, 40)
add_legend(ld2, [LegendItem(label="YBS, healthy", renderers=point_key(ld2, D_COLORS["yh"], size=5)),
                 LegendItem(label="YBS, pathology", renderers=point_key(ld2, D_COLORS["yp"], size=5))],
           px=10.5, gw=13, gh=12, lh=19, standoff=8)
d_html = "".join(
    f'<div style="margin-bottom:13.4px">{t}<br>{stat_html(r, pv, pb, ds, db)}</div>'
    for t, r, pv, pb, ds, db in zip(d_titles, d_r2, d_p, d_p_bold, d_disp, d_disp_bold))
d_stats = div(d_html, 227, 226, font_family=STF, font_size="12px", line_height="14.6px", padding_left="45px",
              padding_top="12px", white_space="nowrap")
d_col = column(row(d_letter, fig_d), row(ld1, ld2), d_stats)

# ============================ PANEL E ============================
e_data = [(e1_a_x, e1_a_y, e1_b_x, e1_b_y, e1_a_ell, e1_b_ell),
          (e2_a_x, e2_a_y, e2_b_x, e2_b_y, e2_a_ell, e2_b_ell),
          (e3_a_x, e3_a_y, e3_b_x, e3_b_y, e3_a_ell, e3_b_ell),
          (e4_a_x, e4_a_y, e4_b_x, e4_b_y, e4_a_ell, e4_b_ell),
          (e5_a_x, e5_a_y, e5_b_x, e5_b_y, e5_a_ell, e5_b_ell),
          (e6_a_x, e6_a_y, e6_b_x, e6_b_y, e6_a_ell, e6_b_ell)]
e_geom = [(119, 36, 2), (120, 34, 4), (112, 39, 11)]
e_figs, e_divs = [], []
for i in range(6):
    ax, ay, bx_, by_, ae, be = e_data[i]
    ga, gb = e_groups[i]
    fw, left, right = e_geom[i % 3]
    top, fh, bottom = (24, 121, 15) if i < 3 else (26, 119, 14)
    p = nmds(fw, fh, left, right, top, bottom, e_xr[i], e_yr[i], e_xticks[i], e_yticks[i], e_xfmt[i], e_yfmt[i],
             e_titles[i], [(ax, ay, TIME_COLORS[ga], ae), (bx_, by_, TIME_COLORS[gb], be)],
             [(ga, e_label_a[i][0], e_label_a[i][1]), (gb, e_label_b[i][0], e_label_b[i][1])],
             tick_px=7.5, ylab_px=9.5, title_px=10.5, pt=4.5, lab_px=10, dash="7 5", lw=1.6)
    e_figs.append(p)
    html = stat_html(e_r2[i], e_p[i], e_p_bold[i], e_disp[i], e_disp_bold[i])
    e_divs.append(div(html, fw + left + right, 42 if i < 3 else 41, font_family=STF, font_size="12.5px",
                      line_height="15px", text_align="center", padding_left=f"{left}px",
                      padding_right=f"{right}px", padding_top="7px" if i < 3 else "8px", white_space="nowrap"))

le = legend_fig(356, 23)
add_legend(le, [LegendItem(label=t, renderers=point_key(le, TIME_COLORS[t], size=6)) for t in time_levels],
           px=12.5, gw=20, gh=14, lh=20, standoff=9, spacing=12, orientation="horizontal")
e_letter = div("<b>E</b>", 16, 160, font_size="17px", line_height="20px", padding_left="4px", padding_top="7px")
e_col = column(
    row(e_letter, *e_figs[:3]),
    row(sp(16, 42), *e_divs[:3]),
    row(sp(16, 159), *e_figs[3:]),
    row(sp(16, 41), *e_divs[3:]),
    row(sp(97, 26), div("Time", 40, 26, font_size="13.5px", line_height="26px"), column(sp(356, 3), le)),
    div("NMDS1", 493, 20, font_size="16px", line_height="20px", padding_left="238px", padding_top="3px"))

block3 = row(d_col, e_col)

layout = column(block1, block2, block3)
open("out.html", "w").write(file_html(layout, INLINE, "Figure"))
